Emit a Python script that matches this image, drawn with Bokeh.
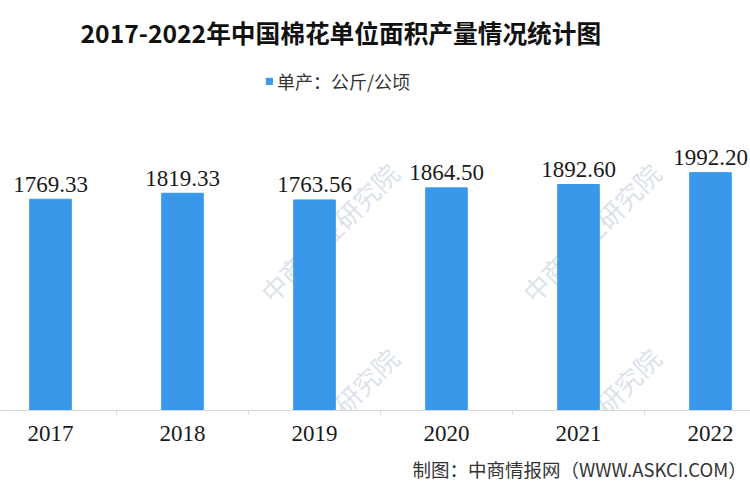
from bokeh.plotting import figure
from bokeh.models import Range1d, FixedTicker, Label, Legend, LegendItem, ColumnDataSource, Title
from bokeh.embed import file_html
from bokeh.resources import INLINE

# Cotton yield per unit area in China, kg per hectare
years = ["2017", "2018", "2019", "2020", "2021", "2022"]
yield_kg_ha = [1769.33, 1819.33, 1763.56, 1864.50, 1892.60, 1992.20]

title_text = "2017-2022年中国棉花单位面积产量情况统计图"
legend_text = "单产：公斤/公顷"
source_text = "制图：中商情报网（WWW.ASKCI.COM）"
watermark_text = "中商产业研究院"

BLUE = "#3a98ea"
W, H = 750, 500
BOTTOM = 90                 # space below the plotting frame
FRAME_H = H - BOTTOM
UNITS_PER_PX = 8.375        # vertical scale of the bars
STEP_PX = 132               # width of one year's slot

xs = list(range(len(years)))
src = ColumnDataSource(dict(
    x=xs, year=years, y=yield_kg_ha,
    label=[f"{v:.2f}" for v in yield_kg_ha],
))

x_start = -50 / STEP_PX
p = figure(width=W, height=H, output_backend="svg", toolbar_location=None,
           x_range=Range1d(x_start, x_start + W / STEP_PX),
           y_range=Range1d(0, FRAME_H * UNITS_PER_PX),
           y_axis_location=None,
           min_border_left=0, min_border_right=0,
           min_border_top=0, min_border_bottom=BOTTOM)
p.background_fill_color = "white"
p.border_fill_color = "white"
p.outline_line_color = None
p.grid.visible = False


def canvas_y(cy):
    """Screen-unit y (measured up from the frame bottom) for a canvas row."""
    return FRAME_H - cy


# faint diagonal watermark beneath the bars
for gx, gy in ((250, 300), (512, 300), (250, 485), (512, 485)):
    p.add_layout(Label(x=gx + 14, y=canvas_y(gy - 4), x_units="screen", y_units="screen",
                       text=watermark_text, angle=0.785, text_font="Noto Sans CJK SC",
                       text_font_size="26px", text_color="#9fb4ca", text_alpha=0.4,
                       text_baseline="middle", text_align="left", level="underlay"))

bars = p.vbar(x="x", top="y", width=0.315, source=src, color=BLUE)

p.text(x="x", y="y", text="label", source=src, text_align="center",
       text_baseline="alphabetic", y_offset=-15, text_font="Liberation Serif",
       text_font_size="23px", text_color="#1a1a1a")

ax = p.xaxis[0]
ax.ticker = FixedTicker(ticks=xs, minor_ticks=[i + 0.5 for i in range(-1, len(years))])
ax.major_label_overrides = {i: y for i, y in zip(xs, years)}
ax.axis_line_color = "#d6d6d6"
ax.axis_line_width = 1
ax.major_tick_line_color = None
ax.major_tick_in = 0
ax.major_tick_out = 0
ax.minor_tick_line_color = "#d6d6d6"
ax.minor_tick_in = 0
ax.minor_tick_out = 4
ax.major_label_standoff = 11
ax.major_label_text_font = "Liberation Serif"
ax.major_label_text_font_size = "23px"
ax.major_label_text_color = "#1a1a1a"

p.add_layout(Label(x=80, y=canvas_y(31), x_units="screen", y_units="screen",
                   text=title_text, text_font="Noto Sans CJK SC", text_font_style="bold",
                   text_font_size="24.7px", text_color="#111111",
                   text_baseline="middle", text_align="left"))

legend = Legend(items=[LegendItem(label=legend_text, renderers=[bars])],
                location=(265, canvas_y(94)), orientation="horizontal",
                glyph_width=8, glyph_height=8, label_standoff=4,
                label_text_font="Noto Sans CJK SC", label_text_font_size="18px",
                label_text_color="#333333", padding=0, margin=0, spacing=0,
                border_line_color=None, background_fill_alpha=0)
p.add_layout(legend, "center")

# chart source line under the year labels
p.add_layout(Title(text=source_text, align="left", offset=412, standoff=23,
                   vertical_align="middle",
                   text_font="Noto Sans CJK SC", text_font_size="18.5px",
                   text_font_style="normal", text_color="#333333"), "below")

open("out.html", "w").write(file_html(p, INLINE))
